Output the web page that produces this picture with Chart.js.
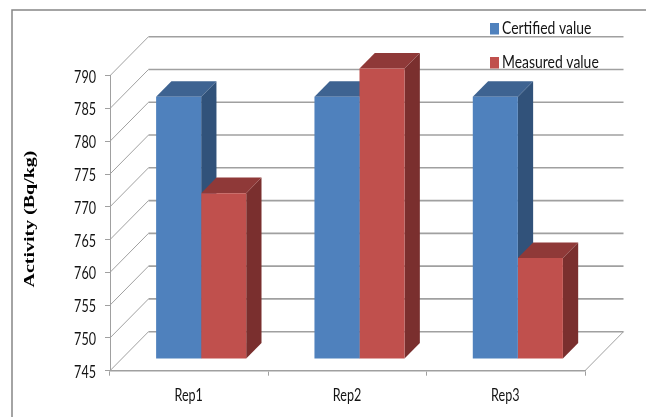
<!DOCTYPE html>
<html>
<head>
<meta charset="utf-8">
<style>
  html, body { margin: 0; padding: 0; background: #fff; }
  canvas { display: block; }
</style>
<script src="https://cdn.jsdelivr.net/npm/chart.js@4"></script>
</head>
<body>
<canvas id="mainChart" width="646" height="417"></canvas>
<script>
const categories = ['Rep1', 'Rep2', 'Rep3'];
const certifiedValues = [785, 785, 785];
const measuredValues = [770.3, 789.3, 760.4];
const yMin = 745;
const yMax = 790;
const yStep = 5;

const FONT = 'Lato, sans-serif';
const GRID = '#a0a0a0';
const TEXT = '#141414';

// how far the back wall, the bars and the bar depth sit from the front plane
const wall = { dx: 38.5, dy: 39 };
const barShift = { dx: 12, dy: 11.7 };
const barDepth = { dx: 15.3, dy: 15.6 };

const shades = {
    Blue: { side: '#31527A', top: '#3E6391' },
    Red: { side: '#7A2F2E', top: '#8F3938' }
};

// reference text is squeezed sideways, no condensed font is installed
const squeezed = (c, text, x, y, align, sx) => {
    c.save();
    c.translate(x, y);
    c.scale(sx, 1);
    c.font = '17px ' + FONT;
    c.fillStyle = TEXT;
    c.textAlign = align;
    c.textBaseline = 'middle';
    c.fillText(text, 0, 0);
    c.restore();
};

const fake3d = {
    id: 'fake3d',
    beforeDraw(chart) {
        // outer frame, only top and left are visible
        const c = chart.ctx;
        c.save();
        c.strokeStyle = '#868686';
        c.lineWidth = 1.5;
        c.beginPath();
        c.moveTo(12, chart.height);
        c.lineTo(12, 10);
        c.lineTo(chart.width, 10);
        c.stroke();
        c.restore();
    },
    beforeDatasetsDraw(chart) {
        const c = chart.ctx;
        const y = chart.scales.y;
        const { left, right, bottom } = chart.chartArea;

        // side wall + back wall grid lines
        c.save();
        y.ticks.forEach(t => {
            const py = y.getPixelForValue(t.value);
            c.strokeStyle = GRID;
            c.lineWidth = 1;
            c.beginPath();
            c.moveTo(left, py);
            c.lineTo(left + wall.dx, py - wall.dy);
            c.stroke();
            c.lineWidth = 1.6;
            c.beginPath();
            c.moveTo(left + wall.dx, py - wall.dy);
            c.lineTo(right + wall.dx, py - wall.dy);
            c.stroke();
        });
        // floor edge on the right
        c.lineWidth = 1;
        c.beginPath();
        c.moveTo(right, bottom);
        c.lineTo(right + wall.dx, bottom - wall.dy);
        c.stroke();
        c.restore();

        // bars are moved back off the front plane, restored in afterDatasetsDraw
        c.save();
        c.translate(barShift.dx, -barShift.dy);
        chart.data.datasets.forEach((ds, i) => {
            const shade = ds.label === 'Certified value' ? shades.Blue : shades.Red;
            chart.getDatasetMeta(i).data.forEach(bar => {
                const l = bar.x - bar.width / 2;
                const r = bar.x + bar.width / 2;
                const dx = barDepth.dx;
                const dy = barDepth.dy;
                c.fillStyle = shade.side;
                c.beginPath();
                c.moveTo(r, bar.y);
                c.lineTo(r + dx, bar.y - dy);
                c.lineTo(r + dx, bar.base - dy);
                c.lineTo(r, bar.base);
                c.closePath();
                c.fill();
                c.fillStyle = shade.top;
                c.beginPath();
                c.moveTo(l, bar.y);
                c.lineTo(l + dx, bar.y - dy);
                c.lineTo(r + dx, bar.y - dy);
                c.lineTo(r, bar.y);
                c.closePath();
                c.fill();
            });
        });
    },
    afterDatasetsDraw(chart) {
        chart.ctx.restore();
    },
    afterDraw(chart) {
        const c = chart.ctx;
        const x = chart.scales.x;
        const y = chart.scales.y;

        // tick labels
        y.ticks.forEach(t => squeezed(c, t.label, 96, y.getPixelForValue(t.value) + 1.5, 'right', 0.74));
        categories.forEach((name, i) => squeezed(c, name, x.getPixelForValue(i) - 0.5, 396, 'center', 0.74));

        // legend
        const legendY = [29, 63];
        chart.data.datasets.forEach((ds, i) => {
            c.fillStyle = ds.backgroundColor;
            c.fillRect(490, legendY[i] - 6, 9, 11.5);
            squeezed(c, ds.label, 502, legendY[i], 'left', 0.82);
        });

        // y axis title
        c.save();
        c.translate(30, 219);
        c.rotate(-Math.PI / 2);
        c.scale(1.33, 1);
        c.font = 'bold 15px "Liberation Serif", serif';
        c.fillStyle = '#000';
        c.textAlign = 'center';
        c.textBaseline = 'middle';
        c.fillText('Activity (Bq/kg)', 0, 0);
        c.restore();
    }
};

new Chart(document.getElementById('mainChart').getContext('2d'), {
    type: 'bar',
    data: {
        labels: categories,
        datasets: [
            { label: 'Certified value', data: certifiedValues, base: yMin, backgroundColor: '#4F81BD', clip: false },
            { label: 'Measured value', data: measuredValues, base: yMin, backgroundColor: '#C0504D', clip: false }
        ]
    },
    options: {
        responsive: false,
        animation: false,
        layout: { padding: { top: 75.7, right: 61, bottom: 0, left: 0 } },
        categoryPercentage: 0.569,
        barPercentage: 1,
        plugins: {
            legend: { display: false },
            tooltip: { enabled: false }
        },
        scales: {
            x: {
                afterFit: s => { s.height = 46.3; },
                grid: { drawOnChartArea: false, color: GRID, tickLength: 5 },
                border: { color: GRID, width: 1.6 },
                ticks: { display: false }
            },
            y: {
                min: yMin,
                max: yMax,
                afterFit: s => { s.width = 110; },
                grid: { drawOnChartArea: false, color: GRID, tickLength: 5 },
                border: { color: GRID, width: 1 },
                ticks: { display: false, stepSize: yStep }
            }
        }
    },
    plugins: [fake3d]
});
</script>
</body>
</html>
